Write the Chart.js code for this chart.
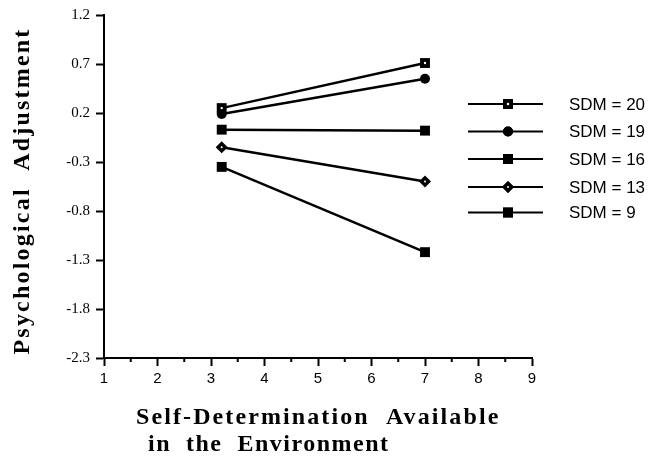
<!DOCTYPE html>
<html>
<head>
<meta charset="utf-8">
<script src="https://cdn.jsdelivr.net/npm/chart.js@4/dist/chart.umd.min.js"></script>
<style>
  body { margin: 0; background: #fff; }
  #wrap { width: 649px; height: 459px; }
</style>
</head>
<body>
<div id="wrap"><canvas id="chart"></canvas></div>
<script>
// data
const seriesNames = ['SDM = 20', 'SDM = 19', 'SDM = 16', 'SDM = 13', 'SDM = 9'];
const envLevels = [3.2, 7];
const sdm20 = [0.25, 0.71];
const sdm19 = [0.19, 0.55];
const sdm16 = [0.03, 0.02];
const sdm13 = [-0.15, -0.50];
const sdm9 = [-0.35, -1.22];
const yTicks = [-2.3, -1.8, -1.3, -0.8, -0.3, 0.2, 0.7, 1.2];
const xTicks = [1, 2, 3, 4, 5, 6, 7, 8, 9];

const yTitle = 'Psychological  Adjustment';
const xTitle = ['Self-Determination  Available', 'in  the  Environment'];

// black markers; "dot" ones get a small white hole in the middle
const markers = [
  { pointStyle: 'rect', radius: 7, dot: 1.2 },
  { pointStyle: 'circle', radius: 5, dot: 0 },
  { pointStyle: 'rect', radius: 7, dot: 0 },
  { pointStyle: 'rectRot', radius: 6, dot: 1 },
  { pointStyle: 'rect', radius: 7, dot: 0 }
];

const allSeries = [sdm20, sdm19, sdm16, sdm13, sdm9];

const datasets = allSeries.map((vals, i) => ({
  label: seriesNames[i],
  data: vals.map((v, j) => ({ x: envLevels[j], y: v })),
  borderColor: '#000',
  backgroundColor: '#000',
  borderWidth: 2.5,
  pointStyle: markers[i].pointStyle,
  pointRadius: markers[i].radius,
  pointBorderWidth: 0,
  showLine: true,
  tension: 0
}));

function whiteDot(ctx, x, y, r) {
  ctx.fillStyle = '#fff';
  ctx.beginPath();
  ctx.arc(x, y, r, 0, Math.PI * 2);
  ctx.fill();
}

const decorations = {
  id: 'decorations',
  afterDatasetsDraw(chart) {
    const ctx = chart.ctx;
    ctx.save();
    chart.data.datasets.forEach((ds, i) => {
      if (!markers[i].dot) return;
      chart.getDatasetMeta(i).data.forEach(pt => whiteDot(ctx, pt.x, pt.y, markers[i].dot));
    });
    ctx.restore();
  },
  afterDraw(chart) {
    const ctx = chart.ctx;
    const xs = chart.scales.x;
    const area = chart.chartArea;
    ctx.save();

    // half-unit minor ticks on x axis
    ctx.strokeStyle = '#000';
    ctx.lineWidth = 2;
    for (let v = 1.5; v < 9; v += 1) {
      const px = xs.getPixelForValue(v);
      ctx.beginPath();
      ctx.moveTo(px, area.bottom);
      ctx.lineTo(px, area.bottom + 4);
      ctx.stroke();
    }

    // y title
    ctx.fillStyle = '#000';
    ctx.font = 'bold 24px "Liberation Serif"';
    ctx.letterSpacing = '2.2px';
    ctx.textAlign = 'center';
    ctx.textBaseline = 'alphabetic';
    ctx.translate(29, 191);
    ctx.rotate(-Math.PI / 2);
    ctx.fillText(yTitle, 0, 0);
    ctx.setTransform(1, 0, 0, 1, 0, 0);

    // x title
    ctx.textAlign = 'left';
    ctx.letterSpacing = '2.1px';
    ctx.fillText(xTitle[0], 136, 424);
    ctx.letterSpacing = '1.5px';
    ctx.fillText(xTitle[1], 148, 451);

    // legend
    ctx.letterSpacing = '0px';
    ctx.font = '17px "Liberation Sans"';
    ctx.textBaseline = 'middle';
    const rows = [104, 131.5, 159, 187, 212.5];
    seriesNames.forEach((name, i) => {
      const y = rows[i];
      ctx.strokeStyle = '#000';
      ctx.lineWidth = 2;
      ctx.beginPath();
      ctx.moveTo(468, y);
      ctx.lineTo(543, y);
      ctx.stroke();
      ctx.fillStyle = '#000';
      Chart.helpers.drawPoint(ctx, {
        pointStyle: markers[i].pointStyle,
        radius: markers[i].radius,
        rotation: 0,
        borderWidth: 0
      }, 508, y);
      ctx.fill();
      if (markers[i].dot) whiteDot(ctx, 508, y, markers[i].dot);
      ctx.fillStyle = '#000';
      ctx.fillText(name, 569, y + 1);
    });
    ctx.restore();
  }
};

new Chart(document.getElementById('chart'), {
  type: 'scatter',
  data: { datasets },
  options: {
    responsive: true,
    maintainAspectRatio: false,
    animation: false,
    layout: { padding: { top: 15, right: 117, left: 0, bottom: 0 } },
    plugins: {
      legend: { display: false },
      tooltip: { enabled: false }
    },
    scales: {
      x: {
        type: 'linear',
        min: 1,
        max: 9,
        afterFit(s) { s.height = 101; },
        afterBuildTicks(s) { s.ticks = xTicks.map(v => ({ value: v })); },
        grid: { drawOnChartArea: false, tickLength: 8, tickWidth: 2, tickColor: '#000' },
        border: { color: '#000', width: 2 },
        ticks: {
          color: '#000',
          padding: 4,
          font: { family: 'Liberation Sans', size: 15 },
          callback: v => String(v)
        }
      },
      y: {
        min: -2.3,
        max: 1.2,
        afterFit(s) { s.width = 104; },
        afterBuildTicks(s) { s.ticks = yTicks.map(v => ({ value: v })); },
        grid: { drawOnChartArea: false, tickLength: 8, tickWidth: 2, tickColor: '#000' },
        border: { color: '#000', width: 2 },
        ticks: {
          color: '#000',
          padding: 6,
          font: { family: 'Liberation Serif', size: 15 },
          callback: v => v.toFixed(1)
        }
      }
    }
  },
  plugins: [decorations]
});
</script>
</body>
</html>
